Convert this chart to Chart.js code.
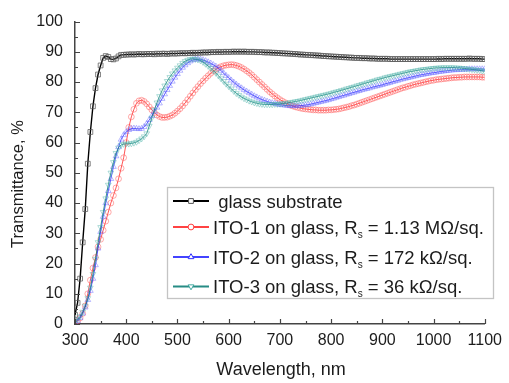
<!DOCTYPE html>
<html>
<head>
<meta charset="utf-8">
<script src="https://cdn.jsdelivr.net/npm/chart.js@4/dist/chart.umd.min.js"></script>
<style>
  html, body { margin: 0; padding: 0; background: #fff; }
</style>
</head>
<body>
<canvas id="spectra" width="509" height="383"></canvas>
<script>
// wavelength grid, nm
const wavelengths = [
  300, 305, 310, 315, 320, 325, 330, 335, 340, 345,
  350, 355, 360, 365, 370, 375, 380, 385, 390, 395,
  400, 405, 410, 415, 420, 425, 430, 435, 440, 445,
  450, 455, 460, 465, 470, 475, 480, 485, 490, 495,
  500, 505, 510, 515, 520, 525, 530, 535, 540, 545,
  550, 555, 560, 565, 570, 575, 580, 585, 590, 595,
  600, 605, 610, 615, 620, 625, 630, 635, 640, 645,
  650, 655, 660, 665, 670, 675, 680, 685, 690, 695,
  700, 705, 710, 715, 720, 725, 730, 735, 740, 745,
  750, 755, 760, 765, 770, 775, 780, 785, 790, 795,
  800, 805, 810, 815, 820, 825, 830, 835, 840, 845,
  850, 855, 860, 865, 870, 875, 880, 885, 890, 895,
  900, 905, 910, 915, 920, 925, 930, 935, 940, 945,
  950, 955, 960, 965, 970, 975, 980, 985, 990, 995,
  1000, 1005, 1010, 1015, 1020, 1025, 1030, 1035, 1040, 1045,
  1050, 1055, 1060, 1065, 1070, 1075, 1080, 1085, 1090, 1095,
  1100
];

// transmittance, %
const glass = [
  3, 7, 15, 27, 38, 53, 63.5, 72, 78, 82.5,
  85.5, 88, 88.6, 88.3, 87.6, 87.5, 87.8, 88.5, 89, 89,
  89.1, 89.1, 89.2, 89.1, 89.2, 89.3, 89.2, 89.2, 89.3, 89.3,
  89.3, 89.2, 89.4, 89.3, 89.4, 89.4, 89.3, 89.4, 89.5, 89.4,
  89.5, 89.5, 89.6, 89.5, 89.6, 89.6, 89.7, 89.6, 89.7, 89.7,
  89.8, 89.8, 89.8, 89.9, 89.9, 89.9, 90, 89.9, 90, 90,
  90, 90, 90.1, 90, 90.1, 90, 90.1, 90, 90, 90,
  90, 89.9, 89.9, 89.9, 89.8, 89.8, 89.8, 89.7, 89.7, 89.6,
  89.6, 89.5, 89.5, 89.4, 89.4, 89.3, 89.3, 89.2, 89.1, 89.1,
  89, 89, 88.9, 88.9, 88.8, 88.8, 88.7, 88.6, 88.6, 88.5,
  88.5, 88.4, 88.4, 88.3, 88.3, 88.2, 88.2, 88.1, 88.1, 88,
  88, 88, 87.9, 87.9, 87.9, 87.8, 87.8, 87.8, 87.7, 87.7,
  87.7, 87.7, 87.7, 87.6, 87.6, 87.6, 87.6, 87.6, 87.6, 87.6,
  87.6, 87.6, 87.6, 87.6, 87.6, 87.6, 87.6, 87.6, 87.6, 87.6,
  87.6, 87.6, 87.7, 87.6, 87.7, 87.7, 87.7, 87.7, 87.7, 87.7,
  87.7, 87.7, 87.7, 87.7, 87.8, 87.7, 87.7, 87.7, 87.7, 87.6,
  87.6
];
const ito1 = [
  0.5, 1, 2, 3.5, 6, 10, 14.5, 18.5, 22, 25.5,
  28, 31, 34, 37, 40, 42.5, 45, 48, 51.5, 55,
  60, 65, 68.5, 71, 73, 73.8, 74, 73.6, 72.8, 71.8,
  70.8, 69.9, 69.1, 68.6, 68.3, 68.3, 68.4, 68.7, 69.1, 69.7,
  70.4, 71.2, 72.1, 73.1, 74.2, 75.3, 76.4, 77.5, 78.5, 79.5,
  80.4, 81.3, 82.1, 82.9, 83.6, 84.2, 84.7, 85.1, 85.4, 85.6,
  85.7, 85.8, 85.7, 85.5, 85.2, 84.8, 84.3, 83.7, 83.1, 82.4,
  81.6, 80.8, 80, 79.2, 78.4, 77.6, 76.8, 76.1, 75.4, 74.8,
  74.2, 73.7, 73.2, 72.8, 72.4, 72.1, 71.8, 71.6, 71.4, 71.2,
  71.1, 71, 70.9, 70.8, 70.8, 70.7, 70.7, 70.7, 70.7, 70.8,
  70.8, 70.9, 71, 71.1, 71.3, 71.5, 71.7, 71.9, 72.2, 72.4,
  72.7, 73, 73.3, 73.6, 73.9, 74.2, 74.5, 74.8, 75.1, 75.4,
  75.7, 76, 76.3, 76.6, 76.9, 77.2, 77.5, 77.8, 78.1, 78.3,
  78.6, 78.8, 79.1, 79.3, 79.5, 79.7, 79.9, 80.1, 80.3, 80.5,
  80.6, 80.8, 80.9, 81, 81.1, 81.2, 81.3, 81.4, 81.5, 81.5,
  81.6, 81.6, 81.7, 81.7, 81.7, 81.7, 81.7, 81.7, 81.7, 81.6,
  81.6
];
const ito2 = [
  0.5, 1, 2, 3.5, 5.5, 8, 11, 15, 19.5, 25,
  30.5, 35.5, 40, 44, 48, 52, 55.5, 58.5, 61, 62.5,
  63.5, 64.2, 64.6, 64.7, 64.6, 64.5, 64.6, 65.2, 66.2, 67.5,
  68.8, 70.2, 71.6, 73, 74.5, 76, 77.4, 78.8, 80.2, 81.5,
  82.7, 83.8, 84.8, 85.6, 86.3, 86.9, 87.3, 87.5, 87.6, 87.5,
  87.3, 87, 86.6, 86.2, 85.7, 85.2, 84.6, 83.8, 83, 82.1,
  81.4, 80.6, 79.9, 79.2, 78.6, 78, 77.4, 76.9, 76.4, 75.9,
  75.4, 75, 74.6, 74.2, 73.9, 73.6, 73.3, 73.1, 72.9, 72.7,
  72.5, 72.4, 72.3, 72.2, 72.1, 72.1, 72.1, 72.1, 72.2, 72.3,
  72.4, 72.5, 72.7, 72.9, 73.1, 73.3, 73.5, 73.7, 73.9, 74.1,
  74.4, 74.6, 74.9, 75.1, 75.4, 75.6, 75.9, 76.1, 76.4, 76.6,
  76.9, 77.1, 77.4, 77.6, 77.8, 78, 78.3, 78.5, 78.7, 78.9,
  79.1, 79.4, 79.6, 79.8, 80.1, 80.3, 80.5, 80.8, 81, 81.2,
  81.4, 81.6, 81.8, 82, 82.2, 82.4, 82.5, 82.7, 82.8, 83,
  83.1, 83.2, 83.4, 83.5, 83.6, 83.7, 83.8, 83.9, 84, 84,
  84.1, 84.1, 84.2, 84.2, 84.3, 84.3, 84.3, 84.3, 84.3, 84.3,
  84.3
];
const ito3 = [
  1, 1.5, 2.5, 4, 6, 8.5, 12, 16.5, 21.5, 27,
  32, 37, 41.5, 46, 50, 53.5, 56.5, 58.3, 59.2, 59.5,
  59.6, 59.6, 59.7, 59.9, 60.2, 60.7, 61.3, 62, 63, 65.5,
  68.2, 70.8, 73.2, 75.3, 77.2, 78.8, 80.3, 81.6, 82.8, 83.8,
  84.7, 85.5, 86.3, 86.9, 87.3, 87.6, 87.7, 87.6, 87.4, 87.1,
  86.6, 86, 85.3, 84.6, 83.8, 83, 82.1, 81.2, 80.3, 79.4,
  78.6, 77.8, 77, 76.3, 75.7, 75.1, 74.6, 74.2, 73.8, 73.5,
  73.2, 73, 72.8, 72.7, 72.6, 72.6, 72.6, 72.6, 72.7, 72.7,
  72.8, 72.9, 73, 73.1, 73.3, 73.4, 73.6, 73.7, 73.9, 74.1,
  74.3, 74.5, 74.7, 74.9, 75.1, 75.3, 75.5, 75.7, 75.9, 76.1,
  76.3, 76.6, 76.8, 77, 77.3, 77.5, 77.8, 78, 78.3, 78.5,
  78.8, 79, 79.3, 79.5, 79.8, 80, 80.3, 80.5, 80.8, 81,
  81.2, 81.5, 81.7, 81.9, 82.1, 82.3, 82.5, 82.7, 82.9, 83.1,
  83.3, 83.5, 83.6, 83.8, 83.9, 84.1, 84.2, 84.3, 84.4, 84.5,
  84.6, 84.7, 84.7, 84.8, 84.8, 84.8, 84.8, 84.8, 84.8, 84.7,
  84.7, 84.6, 84.5, 84.4, 84.3, 84.2, 84.1, 84, 83.9, 83.7,
  83.6
];

// "_s" marks the subscript in legend names
const seriesNames = [
  ' glass substrate',
  'ITO-1 on glass, R_s = 1.13 M\u03A9/sq.',
  'ITO-2 on glass, R_s = 172 k\u03A9/sq.',
  'ITO-3 on glass, R_s = 36 k\u03A9/sq.'
];
const xTicks = [300, 400, 500, 600, 700, 800, 900, 1000, 1100];
const yTicks = [0, 10, 20, 30, 40, 50, 60, 70, 80, 90, 100];

const FONT = "'Liberation Sans', Arial, sans-serif";
const INK = '#1c1c1c';

const toPoints = vals => wavelengths.map((w, i) => ({ x: w, y: vals[i] }));

const styles = [
  { line: '#000000', width: 1.4, marker: 'rect', radius: 3.4, rot: 0, mk: 'rgba(90,90,90,0.75)', legendMk: '#555' },
  { line: 'rgba(255,20,20,0.8)', width: 0.9, marker: 'circle', radius: 2.9, rot: 0, mk: 'rgba(255,90,90,0.5)', legendMk: '#ff4040' },
  { line: 'rgba(20,20,255,0.8)', width: 0.9, marker: 'triangle', radius: 3.3, rot: 0, mk: 'rgba(100,100,255,0.45)', legendMk: '#3030ff' },
  { line: 'rgba(0,120,112,0.85)', width: 0.9, marker: 'triangle', radius: 3.3, rot: 180, mk: 'rgba(80,180,170,0.45)', legendMk: '#40a8a0' }
];

const series = [glass, ito1, ito2, ito3];

const decor = {
  id: 'decor',
  afterDraw(chart) {
    const ctx = chart.ctx;
    const xs = chart.scales.x, ys = chart.scales.y;
    const area = chart.chartArea;
    ctx.save();

    // inward ticks
    ctx.strokeStyle = '#444';
    ctx.lineWidth = 1.2;
    ctx.beginPath();
    for (let v = 300; v <= 1100; v += 50) {
      const px = Math.round(xs.getPixelForValue(v)) + 0.5;
      const len = v % 100 === 0 ? 5 : 3;
      ctx.moveTo(px, area.bottom);
      ctx.lineTo(px, area.bottom - len);
    }
    for (let v = 0; v <= 100; v += 5) {
      const py = Math.round(ys.getPixelForValue(v)) + 0.5;
      const len = v % 10 === 0 ? 5 : 3;
      ctx.moveTo(area.left, py);
      ctx.lineTo(area.left + len, py);
    }
    ctx.stroke();

    // axis titles
    ctx.fillStyle = INK;
    ctx.textAlign = 'center';
    ctx.textBaseline = 'middle';
    ctx.font = '18px ' + FONT;
    ctx.fillText('Wavelength, nm', 281, 370);
    ctx.save();
    ctx.translate(18.5, 184);
    ctx.rotate(-Math.PI / 2);
    ctx.font = '16.5px ' + FONT;
    ctx.fillText('Transmittance, %', 0, 0);
    ctx.restore();

    // legend box
    const box = { x: 167.5, y: 187.5, w: 326, h: 111 };
    ctx.fillStyle = '#fff';
    ctx.fillRect(box.x, box.y, box.w, box.h);
    ctx.strokeStyle = '#c4c4c4';
    ctx.lineWidth = 1.3;
    ctx.strokeRect(box.x, box.y, box.w, box.h);

    const baselines = [207.5, 233.5, 263.5, 293];
    seriesNames.forEach((name, i) => {
      const st = styles[i];
      const base = baselines[i];
      const ly = base - 6.5;
      ctx.strokeStyle = st.line;
      ctx.lineWidth = 2.2;
      ctx.beginPath();
      ctx.moveTo(173, ly);
      ctx.lineTo(209, ly);
      ctx.stroke();
      ctx.fillStyle = '#fff';
      ctx.strokeStyle = st.legendMk;
      ctx.lineWidth = 1;
      Chart.helpers.drawPoint(ctx, { pointStyle: st.marker, radius: st.radius, rotation: st.rot, borderWidth: 1 }, 191, ly);

      ctx.fillStyle = INK;
      ctx.textAlign = 'left';
      ctx.textBaseline = 'alphabetic';
      const parts = name.split('_');
      let x = 213;
      ctx.font = '18.5px ' + FONT;
      ctx.fillText(parts[0], x, base);
      x += ctx.measureText(parts[0]).width;
      if (parts.length > 1) {
        const sub = parts[1].charAt(0);
        const rest = parts[1].slice(1);
        ctx.font = '10px ' + FONT;
        ctx.fillText(sub, x, base + 4);
        x += ctx.measureText(sub).width;
        ctx.font = '18.5px ' + FONT;
        ctx.fillText(rest, x, base);
      }
    });

    ctx.restore();
  }
};

new Chart(document.getElementById('spectra'), {
  type: 'line',
  data: {
    datasets: series.map((vals, i) => ({
      label: seriesNames[i],
      data: toPoints(vals),
      borderColor: styles[i].line,
      borderWidth: styles[i].width,
      pointStyle: styles[i].marker,
      pointRadius: styles[i].radius,
      pointRotation: styles[i].rot,
      pointBorderColor: styles[i].mk,
      pointBackgroundColor: 'rgba(255,255,255,0)',
      pointBorderWidth: 1,
      tension: 0,
      order: 3 - i
    }))
  },
  options: {
    responsive: false,
    animation: false,
    layout: { padding: { top: 18, right: 21, left: 0, bottom: 0 } },
    plugins: {
      legend: { display: false },
      tooltip: { enabled: false }
    },
    scales: {
      x: {
        type: 'linear',
        min: 300,
        max: 1100,
        afterFit: s => { s.height = 59; },
        afterBuildTicks: s => { s.ticks = xTicks.map(v => ({ value: v })); },
        ticks: { font: { family: FONT, size: 16 }, color: INK, padding: 7, maxRotation: 0, callback: v => String(v) },
        grid: { display: true, drawOnChartArea: false, drawTicks: false },
        border: { display: true, color: '#444', width: 1.5 }
      },
      y: {
        min: 0,
        max: 100,
        afterFit: s => { s.width = 75; },
        afterBuildTicks: s => { s.ticks = yTicks.map(v => ({ value: v })); },
        ticks: { font: { family: FONT, size: 16 }, color: INK, padding: 12, callback: v => String(v) },
        grid: { display: true, drawOnChartArea: false, drawTicks: false },
        border: { display: true, color: '#444', width: 1.5 }
      }
    }
  },
  plugins: [decor]
});
</script>
</body>
</html>
